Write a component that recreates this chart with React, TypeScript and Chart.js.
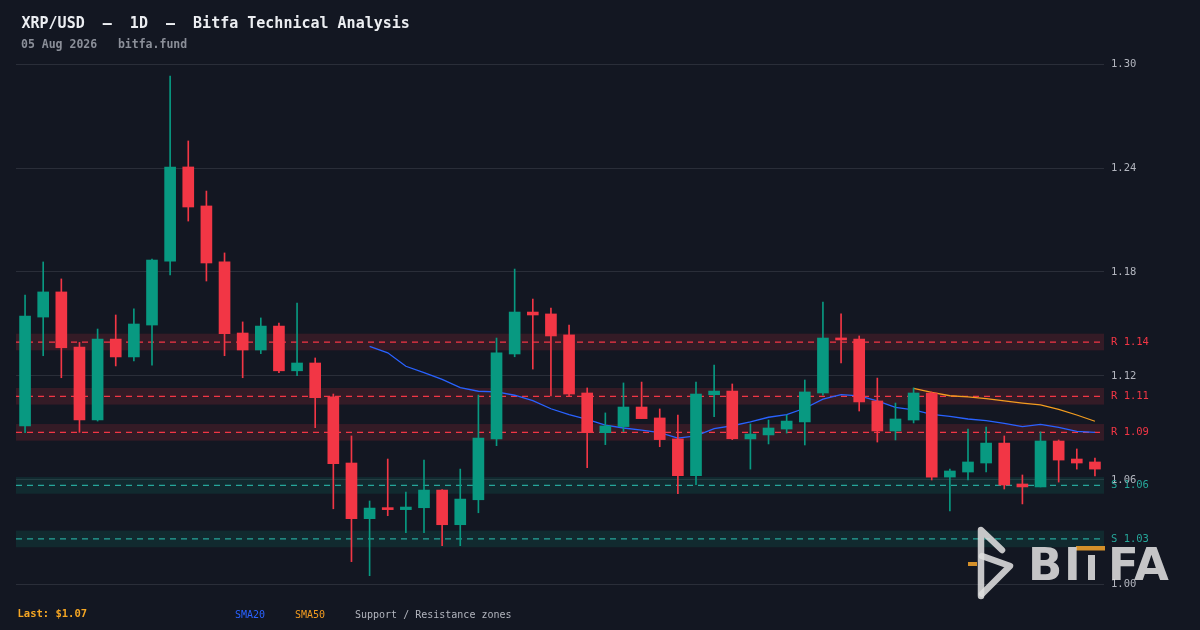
import React, { useEffect, useRef } from "react";
import { Chart, registerables } from "chart.js";

Chart.register(...registerables);

// ---------- data ----------
const openP = [
  1.0912, 1.154, 1.1685, 1.1367, 1.0946, 1.1413, 1.131, 1.1494, 1.1863, 1.2406,
  1.2181, 1.1858, 1.1448, 1.135, 1.1488, 1.123, 1.1275, 1.108, 1.0698, 1.0377,
  1.0438, 1.0429, 1.044, 1.0542, 1.0342, 1.0486, 1.0837, 1.1327, 1.1569, 1.1558,
  1.1437, 1.1102, 1.0873, 1.0908, 1.1021, 1.0958, 1.0837, 1.0625, 1.1092, 1.1113,
  1.0837, 1.086, 1.0894, 1.0935, 1.1102, 1.1419, 1.1413, 1.1056, 1.0883, 1.0946,
  1.1102, 1.0617, 1.0646, 1.0698, 1.0813, 1.0577, 1.056, 1.0825, 1.0721, 1.0704,
];
const highP = [
  1.1667, 1.1858, 1.176, 1.1394, 1.1471, 1.1552, 1.1587, 1.1875, 1.2931, 1.2556,
  1.2267, 1.191, 1.1512, 1.1535, 1.1506, 1.1621, 1.1304, 1.1096, 1.0854, 1.0479,
  1.0721, 1.0531, 1.0715, 1.0545, 1.0663, 1.109, 1.1419, 1.1817, 1.1644, 1.1592,
  1.1494, 1.1131, 1.0987, 1.116, 1.1165, 1.101, 1.0975, 1.1165, 1.1263, 1.1154,
  1.0923, 1.0946, 1.0975, 1.1177, 1.1627, 1.1558, 1.1431, 1.1188, 1.1044, 1.1131,
  1.1108, 1.0663, 1.0894, 1.0906, 1.0854, 1.0629, 1.0877, 1.0831, 1.0779, 1.0727,
];
const lowP = [
  1.0873, 1.1317, 1.119, 1.0875, 1.094, 1.1258, 1.1287, 1.1263, 1.1783, 1.2094,
  1.1748, 1.1317, 1.119, 1.1329, 1.1219, 1.1202, 1.0902, 1.0434, 1.0129, 1.0048,
  1.0394, 1.0296, 1.0296, 1.0221, 1.0221, 1.0411, 1.0798, 1.1311, 1.124, 1.1085,
  1.1085, 1.0671, 1.0804, 1.0879, 1.0954, 1.0792, 1.0521, 1.0573, 1.0965, 1.0833,
  1.0663, 1.0808, 1.0871, 1.0802, 1.109, 1.1275, 1.0998, 1.0819, 1.0831, 1.0929,
  1.06, 1.0421, 1.06, 1.0646, 1.0548, 1.0462, 1.056, 1.0588, 1.0663, 1.0623,
];
const closeP = [
  1.1546, 1.1685, 1.1363, 1.0946, 1.1413, 1.131, 1.15, 1.1869, 1.2406, 1.2175,
  1.1852, 1.1444, 1.135, 1.1488, 1.123, 1.1275, 1.1075, 1.0694, 1.0377, 1.0438,
  1.0429, 1.0444, 1.0542, 1.0342, 1.049, 1.0842, 1.1333, 1.1569, 1.1552, 1.1431,
  1.1096, 1.0873, 1.0912, 1.1021, 1.0954, 1.0833, 1.0625, 1.1096, 1.1113, 1.0838,
  1.0865, 1.09, 1.094, 1.1108, 1.1419, 1.1408, 1.105, 1.0883, 1.0952, 1.1102,
  1.0617, 1.0652, 1.0704, 1.0813, 1.0571, 1.056, 1.0825, 1.0715, 1.0698, 1.0663,
];
const sma20 = [
  ...Array(19).fill(null),
  1.1371, 1.1334, 1.1256, 1.1219, 1.1181, 1.1133, 1.1112, 1.1108, 1.1089, 1.1058,
  1.1011, 1.0977, 1.095, 1.0917, 1.09, 1.0888, 1.0873, 1.0842, 1.0854, 1.0896,
  1.0913, 1.0935, 1.0962, 1.0977, 1.1014, 1.1066, 1.1092, 1.1085, 1.1056, 1.1019,
  1.1004, 1.0978, 1.0967, 1.0952, 1.0942, 1.0927, 1.0908, 1.0921, 1.0904, 1.0881,
  1.0875,
];
const sma50 = [
  ...Array(49).fill(null),
  1.1129, 1.1106, 1.1086, 1.1079, 1.1069, 1.1056, 1.1044, 1.1034, 1.1008, 1.0975,
  1.0939,
];
const zoneLevels = [1.1396, 1.1083, 1.0875, 1.0569, 1.026];
const zoneKinds = ["R", "R", "R", "S", "S"];
const zoneLabels = ["R 1.14", "R 1.11", "R 1.09", "S 1.06", "S 1.03"];
const zoneHalf = 0.0048;
const yTickMin = 1.0;
const yTickMax = 1.3;
const yTickStep = 0.06;

// category labels: 60 daily sessions ending 05 Aug 2026
const dayLabels: string[] = [];
{
  const end = new Date(Date.UTC(2026, 7, 5));
  for (let i = 59; i >= 0; i--) {
    const d = new Date(end.getTime() - i * 86400000);
    dayLabels.push(d.toISOString().slice(0, 10));
  }
}

// ---------- styles ----------
const BG = "#131722";
const UP = "#089981";
const DOWN = "#f23645";
const TEAL = "#26a69a";
const BLUE = "#2962ff";
const ORANGE = "#f39c1f";
const MONO = '"DejaVu Sans Mono", monospace';

const zonesPlugin = {
  id: "zones",
  beforeDatasetsDraw(chart: any) {
    const { ctx, chartArea, scales } = chart;
    const y = scales.y;
    ctx.save();
    zoneLevels.forEach((lv, i) => {
      const isR = zoneKinds[i] === "R";
      const yt = y.getPixelForValue(lv + zoneHalf);
      const yb = y.getPixelForValue(lv - zoneHalf);
      ctx.fillStyle = isR ? "rgba(242,54,69,0.15)" : "rgba(8,153,129,0.15)";
      ctx.fillRect(chartArea.left, yt, chartArea.right - chartArea.left, yb - yt);
      const yy = y.getPixelForValue(lv);
      ctx.setLineDash([6, 5]);
      ctx.lineWidth = 1.2;
      ctx.strokeStyle = isR ? DOWN : TEAL;
      ctx.beginPath();
      ctx.moveTo(chartArea.left, yy);
      ctx.lineTo(chartArea.right, yy);
      ctx.stroke();
    });
    ctx.restore();
  },
  afterDraw(chart: any) {
    const { ctx, chartArea, scales } = chart;
    const y = scales.y;
    ctx.save();
    ctx.font = `10.5px ${MONO}`;
    ctx.textBaseline = "middle";
    ctx.textAlign = "left";
    zoneLevels.forEach((lv, i) => {
      ctx.fillStyle = zoneKinds[i] === "R" ? DOWN : TEAL;
      ctx.fillText(zoneLabels[i], chartArea.right + 7, y.getPixelForValue(lv));
    });
    ctx.restore();

    // watermark logo
    ctx.save();
    const grey = "rgba(222,222,222,0.88)";
    const gold = "#d4902a";
    ctx.strokeStyle = grey;
    ctx.lineWidth = 6.5;
    ctx.lineCap = "round";
    ctx.lineJoin = "round";
    ctx.beginPath();
    ctx.moveTo(981, 596);
    ctx.lineTo(981, 530);
    ctx.lineTo(1002, 550);
    ctx.stroke();
    ctx.beginPath();
    ctx.moveTo(982, 556);
    ctx.lineTo(1010, 566);
    ctx.lineTo(982, 594);
    ctx.stroke();
    ctx.fillStyle = gold;
    ctx.fillRect(968, 562, 9, 4);
    ctx.fillRect(1076, 546, 29, 4.5);
    ctx.fillStyle = grey;
    ctx.font = 'bold 45px "DejaVu Sans"';
    ctx.textBaseline = "alphabetic";
    ctx.textAlign = "left";
    ctx.fillText("B", 1028, 580);
    ctx.fillText("I", 1064, 580);
    ctx.fillRect(1088, 555, 7, 25);
    ctx.fillText("F", 1108, 580);
    ctx.fillText("A", 1134, 580);
    ctx.restore();
  },
};

export default function App() {
  const ref = useRef<HTMLCanvasElement>(null);

  useEffect(() => {
    document.body.style.margin = "0";
    document.body.style.background = BG;
    const canvas = ref.current;
    if (!canvas) return;
    const candleColors = closeP.map((c, i) => (c >= openP[i] ? UP : DOWN));
    const chart = new Chart(canvas, {
      type: "bar",
      data: {
        labels: dayLabels,
        datasets: [
          {
            type: "line",
            label: "SMA20",
            data: sma20 as any,
            borderColor: BLUE,
            borderWidth: 1.3,
            pointRadius: 0,
            tension: 0,
            order: 3,
          } as any,
          {
            type: "line",
            label: "SMA50",
            data: sma50 as any,
            borderColor: ORANGE,
            borderWidth: 1.3,
            pointRadius: 0,
            tension: 0,
            order: 3,
          } as any,
          {
            type: "bar",
            label: "wick",
            data: lowP.map((l, i) => [l, highP[i]]) as any,
            backgroundColor: candleColors,
            barThickness: 1,
            grouped: false,
            order: 2,
          } as any,
          {
            type: "bar",
            label: "body",
            data: openP.map((o, i) => [o, closeP[i]]) as any,
            backgroundColor: candleColors,
            barThickness: 11,
            minBarLength: 2,
            grouped: false,
            order: 1,
          } as any,
        ],
      },
      options: {
        responsive: false,
        animation: false,
        devicePixelRatio: 1,
        layout: { padding: { left: 16, top: 64, right: 0, bottom: 46 } },
        plugins: { legend: { display: false }, tooltip: { enabled: false } },
        scales: {
          x: { display: false, offset: true, grid: { display: false } },
          y: {
            position: "right",
            min: yTickMin,
            max: yTickMax,
            afterFit: (s: any) => {
              s.width = 96;
            },
            border: { display: false },
            grid: { color: "#2a2e39", drawTicks: false, lineWidth: 1 },
            ticks: {
              stepSize: yTickStep,
              padding: 7,
              color: "#b2b5be",
              font: { family: MONO, size: 10.5 },
              callback: (v: any) => Number(v).toFixed(2),
            },
          },
        },
      } as any,
      plugins: [zonesPlugin],
    });
    return () => chart.destroy();
  }, []);

  const txt = (extra: React.CSSProperties): React.CSSProperties => ({
    position: "absolute",
    fontFamily: MONO,
    lineHeight: 1,
    whiteSpace: "pre",
    margin: 0,
    ...extra,
  });

  return (
    <div
      style={{
        position: "fixed",
        left: 0,
        top: 0,
        width: 1200,
        height: 630,
        background: BG,
        overflow: "hidden",
      }}
    >
      <canvas
        ref={ref}
        width={1200}
        height={630}
        style={{ position: "absolute", left: 0, top: 0, width: 1200, height: 630 }}
      />
      <div style={txt({ left: 21.5, top: 16.3, fontSize: 15, fontWeight: "bold", color: "#eceef2" })}>
        {"XRP/USD  —  1D  —  Bitfa Technical Analysis"}
      </div>
      <div style={txt({ left: 21, top: 39.3, fontSize: 11.5, fontWeight: "bold", color: "#8b8f99" })}>
        {"05 Aug 2026   bitfa.fund"}
      </div>
      <div style={txt({ left: 17.5, top: 608.1, fontSize: 10.5, fontWeight: "bold", color: "#f5a623" })}>
        {"Last: $1.07"}
      </div>
      <div style={txt({ left: 235, top: 610.2, fontSize: 10, color: BLUE })}>{"SMA20"}</div>
      <div style={txt({ left: 295, top: 610.2, fontSize: 10, color: ORANGE })}>{"SMA50"}</div>
      <div style={txt({ left: 355, top: 610.2, fontSize: 10, color: "#b2b5be" })}>
        {"Support / Resistance zones"}
      </div>
    </div>
  );
}
